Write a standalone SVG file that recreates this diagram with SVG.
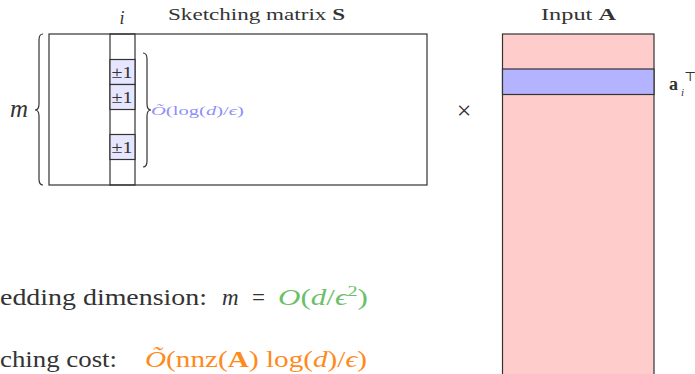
<svg xmlns="http://www.w3.org/2000/svg" width="695" height="374" viewBox="0 0 695 374">
<style>
.ln{fill:none;stroke:#333;stroke-width:1.2}
.t{font-family:"Liberation Serif","DejaVu Serif",serif;fill:#333}
.cell{fill:#e6e6ff;stroke:#333;stroke-width:1.2}
.g{fill:#6cbf6a}
.o{fill:#ff8a1c}
</style>
<rect width="695" height="374" fill="#fff"/>
<g id="sketch-matrix">
<rect class="ln" x="49" y="34" width="378" height="151"/>
<rect class="ln" x="110" y="34" width="25" height="151"/>
<text class="t" x="168" y="20" font-size="16" textLength="177" lengthAdjust="spacingAndGlyphs">Sketching matrix <tspan font-weight="bold">S</tspan></text>
<text class="t" x="122" y="24" font-size="18" font-style="italic" text-anchor="middle">i</text>
</g>
<g id="cells">
<rect class="cell" x="110" y="59.5" width="25" height="25"/>
<rect class="cell" x="110" y="84.5" width="25" height="25"/>
<rect class="cell" x="110" y="134.5" width="25" height="25"/>
<text class="t" x="111.5" y="78" font-size="16" textLength="21" lengthAdjust="spacingAndGlyphs">±1</text>
<text class="t" x="111.5" y="103" font-size="16" textLength="21" lengthAdjust="spacingAndGlyphs">±1</text>
<text class="t" x="111.5" y="153" font-size="16" textLength="21" lengthAdjust="spacingAndGlyphs">±1</text>
</g>
<g id="m-brace">
<path class="ln" d="M43,34 Q39,34 39,40 L39,104 Q39,110 35,110 Q39,110 39,116 L39,179 Q39,185 43,185"/>
<text class="t" x="19" y="117" font-size="25" font-style="italic" text-anchor="middle">m</text>
</g>
<g id="nnz-brace">
<path class="ln" d="M143,53 Q147,53 147,59 L147,104 Q147,110 151,110 Q147,110 147,116 L147,161 Q147,167 143,167"/>
<text class="t" x="151" y="114.5" font-size="13" textLength="93" lengthAdjust="spacingAndGlyphs" style="fill:#8f8ff7"><tspan font-style="italic">Õ</tspan>(log(<tspan font-style="italic">d</tspan>)/<tspan font-style="italic">ϵ</tspan>)</text>
</g>
<g id="times">
<text class="t" x="464" y="119" font-size="26" text-anchor="middle">×</text>
</g>
<g id="input-A">
<rect x="502.5" y="34" width="151.5" height="345" fill="#ffcccc" stroke="#333" stroke-width="1.2"/>
<rect x="502.5" y="69" width="151.5" height="25.5" fill="#b3b3ff" stroke="#333" stroke-width="1.2"/>
<text class="t" x="541" y="20" font-size="16" textLength="75" lengthAdjust="spacingAndGlyphs">Input <tspan font-weight="bold">A</tspan></text>
<text class="t" x="669" y="90" font-size="18" font-weight="bold">a</text>
<text class="t" x="681" y="96" font-size="11" font-style="italic">i</text>
<text class="t" x="684" y="81" font-size="13">⊤</text>
</g>
<g id="connectors"></g>
<g id="captions">
<text class="t" x="0" y="305" font-size="23" textLength="207" lengthAdjust="spacingAndGlyphs">edding dimension:</text>
<text class="t" x="222" y="305" font-size="23" font-style="italic">m</text>
<text class="t" x="252" y="305" font-size="23">=</text>
<text class="t g" x="278" y="305" font-size="23" textLength="90" lengthAdjust="spacingAndGlyphs"><tspan font-style="italic">O</tspan>(<tspan font-style="italic">d</tspan>/<tspan font-style="italic">ϵ</tspan><tspan font-size="15" dy="-9">2</tspan><tspan dy="9">)</tspan></text>
<text class="t" x="0" y="367" font-size="23" textLength="117" lengthAdjust="spacingAndGlyphs">ching cost:</text>
<text class="t o" x="145" y="367" font-size="23" textLength="222" lengthAdjust="spacingAndGlyphs"><tspan font-style="italic">Õ</tspan>(nnz(<tspan font-weight="bold">A</tspan>) log(<tspan font-style="italic">d</tspan>)/<tspan font-style="italic">ϵ</tspan>)</text>
</g>
</svg>
